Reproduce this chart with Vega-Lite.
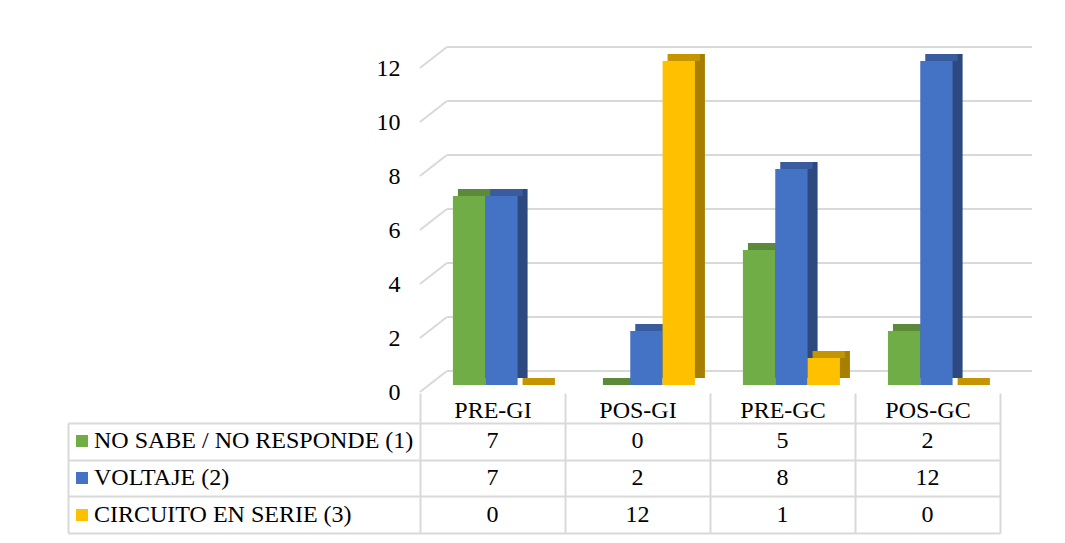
{
  "$schema": "https://vega.github.io/schema/vega-lite/v6.json",
  "padding": {"left": 67, "top": 46, "right": 10, "bottom": 5},
  "background": "white",
  "bounds": "flush",
  "spacing": 31,
  "config": {
    "view": {"stroke": null},
    "font": "Liberation Serif",
    "axis": {"labelFont": "Liberation Serif", "labelColor": "#000000"},
    "legend": {"labelFont": "Liberation Serif"},
    "text": {"font": "Liberation Serif"}
  },
  "datasets": {
    "main": [
      {"c": "PRE-GI", "s": "NO SABE / NO RESPONDE (1)", "n": 7},
      {"c": "PRE-GI", "s": "VOLTAJE (2)", "n": 7},
      {"c": "PRE-GI", "s": "CIRCUITO EN SERIE (3)", "n": 0},
      {"c": "POS-GI", "s": "NO SABE / NO RESPONDE (1)", "n": 0},
      {"c": "POS-GI", "s": "VOLTAJE (2)", "n": 2},
      {"c": "POS-GI", "s": "CIRCUITO EN SERIE (3)", "n": 12},
      {"c": "PRE-GC", "s": "NO SABE / NO RESPONDE (1)", "n": 5},
      {"c": "PRE-GC", "s": "VOLTAJE (2)", "n": 8},
      {"c": "PRE-GC", "s": "CIRCUITO EN SERIE (3)", "n": 1},
      {"c": "POS-GC", "s": "NO SABE / NO RESPONDE (1)", "n": 2},
      {"c": "POS-GC", "s": "VOLTAJE (2)", "n": 12},
      {"c": "POS-GC", "s": "CIRCUITO EN SERIE (3)", "n": 0}
    ],
    "grid": [{"v": 0}, {"v": 2}, {"v": 4}, {"v": 6}, {"v": 8}, {"v": 10}, {"v": 12}]
  },
  "resolve": {"scale": {"x": "independent", "y": "independent"}},
  "vconcat": [
    {
      "width": 580,
      "height": 324,
      "resolve": {"scale": {"xOffset": "independent"}},
      "layer": [
        {
          "data": {"name": "grid"},
          "mark": {"type": "rule", "color": "#D9D9D9", "strokeWidth": 2, "xOffset": -6, "x2Offset": 47, "yOffset": -21},
          "encoding": {
            "x": {"datum": "PRE-GI", "type": "nominal", "bandPosition": 0,
              "scale": {"domain": ["PRE-GI", "POS-GI", "PRE-GC", "POS-GC"], "range": [9, 589], "paddingInner": 0.33, "paddingOuter": 0.165}, "axis": null},
            "x2": {"datum": "POS-GC", "bandPosition": 1},
            "y": {"field": "v", "type": "quantitative", "scale": {"domain": [0, 12], "nice": false},
              "axis": {"orient": "left", "domain": false, "ticks": false, "grid": false, "labelPadding": 20, "labelFontSize": 24, "values": [0, 2, 4, 6, 8, 10, 12], "title": null}}
          }
        },
        {
          "data": {"name": "grid"},
          "mark": {"type": "rule", "color": "#D9D9D9", "strokeWidth": 2, "xOffset": -33, "x2Offset": -6, "y2Offset": -21},
          "encoding": {
            "x": {"datum": "PRE-GI", "type": "nominal", "bandPosition": 0},
            "x2": {"datum": "PRE-GI", "bandPosition": 0},
            "y": {"field": "v", "type": "quantitative"},
            "y2": {"field": "v"}
          }
        },
        {
          "data": {"name": "main"},
          "mark": {"type": "bar", "yOffset": -14, "y2Offset": -14},
          "encoding": {
            "x": {"field": "c", "type": "nominal", "sort": null},
            "xOffset": {"field": "s", "type": "nominal", "scale": {"domain": ["NO SABE / NO RESPONDE (1)", "VOLTAJE (2)", "CIRCUITO EN SERIE (3)"], "range": [10, 107]}},
            "y": {"field": "n", "type": "quantitative"},
            "fill": {
              "condition": [
                {"test": "datum.s === 'NO SABE / NO RESPONDE (1)'", "value": "#4E7A31"},
                {"test": "datum.s === 'VOLTAJE (2)'", "value": "#2C4A80"}
              ],
              "value": "#A67E00"
            }
          }
        },
        {
          "data": {"name": "main"},
          "mark": {"type": "bar", "yOffset": -14, "y2Offset": -7},
          "encoding": {
            "x": {"field": "c", "type": "nominal", "sort": null},
            "xOffset": {"field": "s", "type": "nominal", "scale": {"domain": ["NO SABE / NO RESPONDE (1)", "VOLTAJE (2)", "CIRCUITO EN SERIE (3)"], "range": [5, 102]}},
            "y": {"field": "n", "type": "quantitative"},
            "y2": {"field": "n"},
            "fill": {
              "condition": [
                {"test": "datum.s === 'NO SABE / NO RESPONDE (1)'", "value": "#5A8A3A"},
                {"test": "datum.s === 'VOLTAJE (2)'", "value": "#385C9E"}
              ],
              "value": "#C59500"
            }
          }
        },
        {
          "data": {"name": "main"},
          "mark": {"type": "bar", "yOffset": -7, "y2Offset": -7},
          "encoding": {
            "x": {"field": "c", "type": "nominal", "sort": null},
            "xOffset": {"field": "s", "type": "nominal", "scale": {"domain": ["NO SABE / NO RESPONDE (1)", "VOLTAJE (2)", "CIRCUITO EN SERIE (3)"], "range": [0, 97]}},
            "y": {"field": "n", "type": "quantitative"},
            "color": {"field": "s", "type": "nominal",
              "scale": {"domain": ["NO SABE / NO RESPONDE (1)", "VOLTAJE (2)", "CIRCUITO EN SERIE (3)"], "range": ["#70AD47", "#4472C4", "#FFC000"]},
              "legend": {"orient": "none", "legendX": -350, "legendY": 361, "title": null, "symbolType": "square", "symbolSize": 144, "symbolStrokeWidth": 0, "labelFontSize": 24, "labelColor": "#000000", "labelOffset": 0, "rowPadding": 13, "labelLimit": 600, "padding": 0}}
          }
        }
      ]
    },
    {
      "width": 580,
      "height": 110,
      "data": {"name": "main"},
      "mark": {"type": "text", "fontSize": 24, "color": "#000000", "baseline": "middle"},
      "encoding": {
        "x": {"field": "c", "type": "nominal", "sort": null,
          "scale": {"domain": ["PRE-GI", "POS-GI", "PRE-GC", "POS-GC"], "paddingInner": 0, "paddingOuter": 0},
          "axis": {"orient": "top", "domain": false, "ticks": true, "tickSize": 30, "tickColor": "#D9D9D9", "tickWidth": 2,
            "grid": true, "gridColor": "#D9D9D9", "gridWidth": 2, "tickBand": "extent",
            "labelFontSize": 24, "labelPadding": -17, "labelBaseline": "middle", "labelAngle": 0, "title": null}},
        "y": {"field": "s", "type": "nominal", "sort": null,
          "scale": {"domain": ["NO SABE / NO RESPONDE (1)", "VOLTAJE (2)", "CIRCUITO EN SERIE (3)"], "paddingInner": 0, "paddingOuter": 0},
          "axis": {"orient": "left", "offset": 352, "domain": true, "domainColor": "#D9D9D9", "domainWidth": 2,
            "ticks": true, "tickSize": -352, "tickColor": "#D9D9D9", "tickWidth": 2, "tickBand": "extent",
            "labels": false, "grid": true, "gridColor": "#D9D9D9", "gridWidth": 2, "title": null}},
        "text": {"field": "n", "type": "quantitative"}
      }
    }
  ]
}
